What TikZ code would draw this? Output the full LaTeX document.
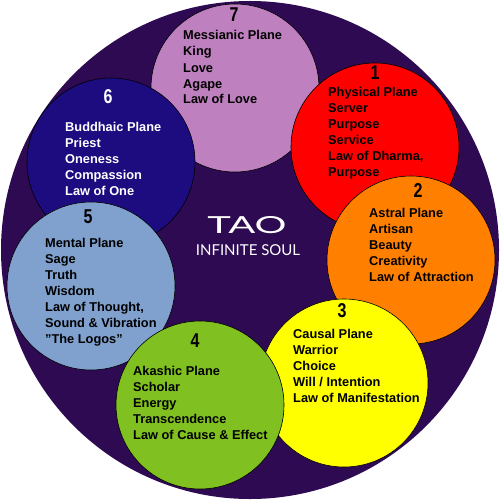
\documentclass[tikz,border=0pt]{standalone}
\usepackage{fontspec}
\setmainfont{Liberation Sans}
\newfontfamily\taofont[FakeStretch=1.7]{Lato}
\newfontfamily\soulfont{Lato}
\newfontfamily\numfont[FakeStretch=0.8]{Liberation Sans}

\definecolor{taobg}{RGB}{46,10,82}
\definecolor{lilac}{RGB}{190,128,190}
\definecolor{physred}{RGB}{255,0,0}
\definecolor{astralorange}{RGB}{255,128,0}
\definecolor{causalyellow}{RGB}{255,255,0}
\definecolor{akashicgreen}{RGB}{128,192,32}
\definecolor{mentalblue}{RGB}{128,160,206}
\definecolor{buddhanavy}{RGB}{28,12,128}

% text blocks are placed at the baseline of their last line
\tikzset{
  plane/.style={draw=black, line width=0.6pt},
  planetext/.style={anchor=base west, align=left, inner sep=0pt,
    font=\bfseries\fontsize{12.8}{16}\selectfont},
  planenum/.style={anchor=base, inner sep=0pt,
    font=\numfont\bfseries\fontsize{20}{20}\selectfont},
}

\begin{document}
\begin{tikzpicture}[x=1pt,y=-1pt]
    \useasboundingbox (0,0) rectangle (500,500);

    % the soul
    \coordinate (tao) at (250,250);
    \fill[taobg] (tao) circle (249);

    % centres of the seven planes
    \coordinate (p7) at (235,88);
    \coordinate (p1) at (375,147);
    \coordinate (p2) at (411,260);
    \coordinate (p3) at (344,383);
    \coordinate (p6) at (111,162);
    \coordinate (p5) at (91,286);
    \coordinate (p4) at (200,405);

    \draw[plane, fill=lilac] (p7) circle (84);
    \draw[plane, fill=physred] (p1) circle (84);
    \draw[plane, fill=astralorange] (p2) circle (84);
    \draw[plane, fill=causalyellow] (p3) circle (84);
    \draw[plane, fill=buddhanavy] (p6) circle (84);
    \draw[plane, fill=mentalblue] (p5) circle (84);
    \draw[plane, fill=akashicgreen] (p4) circle (84);

    % 7
    \node[planenum] (n7) at (234,22) {7};
    \node[planetext] (t7) at (183,104) {Messianic Plane\\King\\Love\\Agape\\Law of Love};
    % 1
    \node[planenum] (n1) at (375,80) {1};
    \node[planetext] (t1) at (328,176) {Physical Plane\\Server\\Purpose\\Service\\Law of Dharma,\\Purpose};
    % 2
    \node[planenum] (n2) at (418,197) {2};
    \node[planetext] (t2) at (369,281) {Astral Plane\\Artisan\\Beauty\\Creativity\\Law of Attraction};
    % 3
    \node[planenum] (n3) at (342,317) {3};
    \node[planetext] (t3) at (293,402) {Causal Plane\\Warrior\\Choice\\Will / Intention\\Law of Manifestation};
    % 4
    \node[planenum] (n4) at (195,347) {4};
    \node[planetext] (t4) at (133,439) {Akashic Plane\\Scholar\\Energy\\Transcendence\\Law of Cause \& Effect};
    % 5
    \node[planenum] (n5) at (88,223) {5};
    \node[planetext] (t5) at (45,343) {Mental Plane\\Sage\\Truth\\Wisdom\\Law of Thought,\\Sound \& Vibration\\\char34 The Logos\char34};
    % 6
    \node[planenum, text=white] (n6) at (108,103) {6};
    \node[planetext, text=white] (t6) at (65,195) {Buddhaic Plane\\Priest\\Oneness\\Compassion\\Law of One};

    % centre title
    \node[anchor=base, inner sep=0pt, text=white, font=\taofont\fontsize{23.5}{24}\selectfont] (title) at (247,233) {TAO};
    \node[anchor=base, inner sep=0pt, text=white, font=\soulfont\fontsize{15}{16}\selectfont] (subtitle) at (248,255) {INFINITE SOUL};
\end{tikzpicture}
\end{document}
